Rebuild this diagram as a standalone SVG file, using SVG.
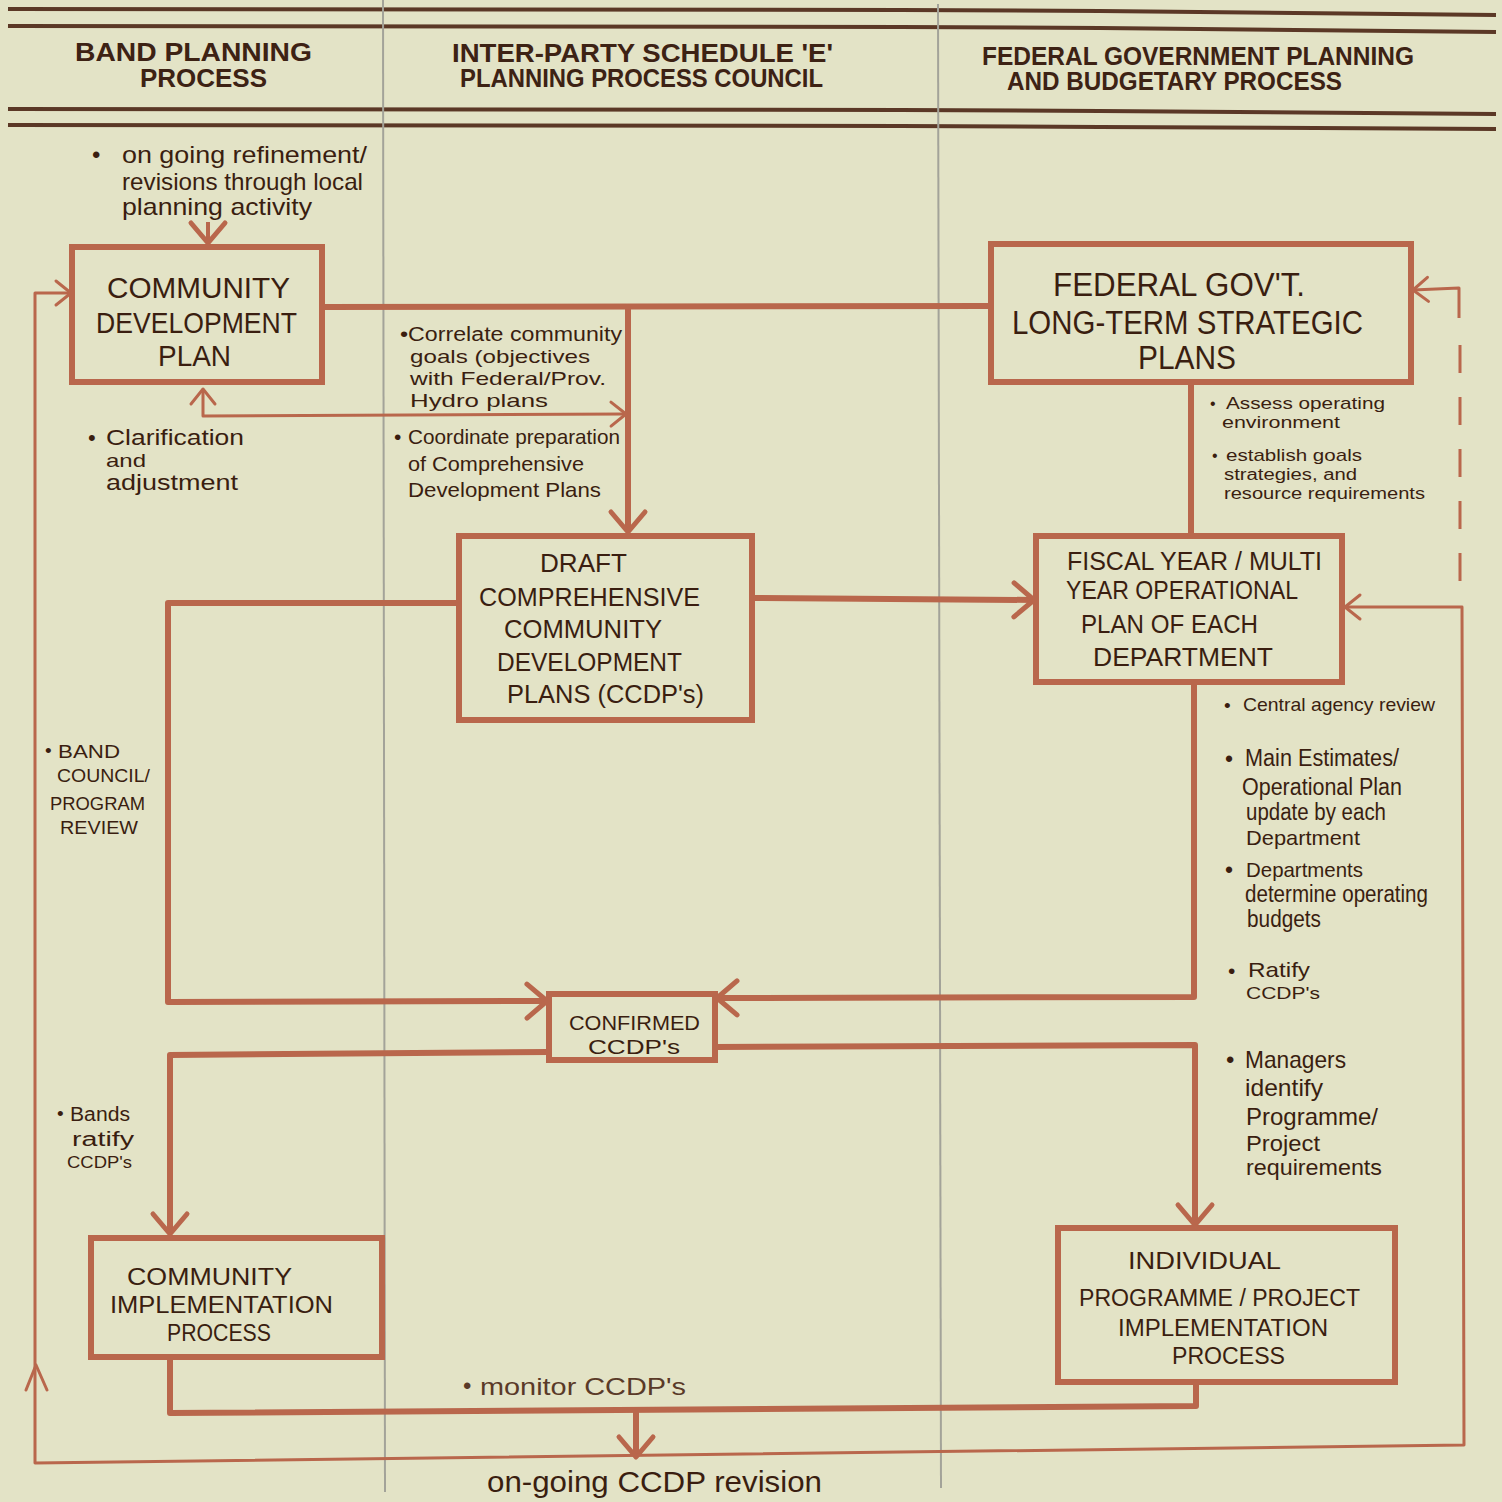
<svg xmlns="http://www.w3.org/2000/svg" width="1502" height="1502" viewBox="0 0 1502 1502">
<style>
.bg{fill:#e3e3c6}
.rule{stroke:#5b3826;stroke-width:4;fill:none}
.div{stroke:#a3a399;stroke-width:2;fill:none}
.box{fill:none;stroke:#b9674c;stroke-width:6}
.thick{fill:none;stroke:#b9674c;stroke-width:6;stroke-linejoin:round}
.thin{fill:none;stroke:#b9674c;stroke-width:3;stroke-linejoin:round}
.hdr{font-family:"Liberation Sans",Arial,sans-serif;font-weight:bold;font-size:25px;fill:#3d2214}
.lbl{font-family:"Liberation Sans",Arial,sans-serif;font-size:26px;fill:#3a1e10}
.ann{font-family:"Liberation Sans",Arial,sans-serif;font-size:23px;fill:#3a1e10}
.sm{font-family:"Liberation Sans",Arial,sans-serif;font-size:19px;fill:#3a1e10}
.xs{font-family:"Liberation Sans",Arial,sans-serif;font-size:16px;fill:#3a1e10}
.mon{font-family:"Liberation Sans",Arial,sans-serif;font-size:24px;fill:#5a3a28}
</style>
<defs>
<marker id="ah" viewBox="-24 -22 28 44" markerWidth="28" markerHeight="44" refX="0" refY="0" orient="auto-start-reverse" markerUnits="userSpaceOnUse">
<path d="M-20,-17 L0,0 L-20,17" fill="none" stroke="#b9674c" stroke-width="5" stroke-linecap="round" stroke-linejoin="round"/>
</marker>
<marker id="as" viewBox="-18 -16 22 32" markerWidth="22" markerHeight="32" refX="0" refY="0" orient="auto-start-reverse" markerUnits="userSpaceOnUse">
<path d="M-15,-12 L0,0 L-15,12" fill="none" stroke="#b9674c" stroke-width="3" stroke-linecap="round" stroke-linejoin="round"/>
</marker>
</defs>
<rect class="bg" x="0" y="0" width="1502" height="1502"/>

<g id="frame">
<path class="rule" d="M8,9 L900,10 L1100,11 L1496,15"/>
<path class="rule" d="M8,26 L900,27 L1100,28 L1496,32"/>
<path class="rule" d="M8,109 L900,110 L1100,111 L1496,114"/>
<path class="rule" d="M8,125 L900,126 L1100,127 L1496,129"/>
<path class="div" d="M383,0 L385,1492"/>
<path class="div" d="M938,4 L941,1488"/>
<text class="hdr" x="75" y="61" textLength="237" lengthAdjust="spacingAndGlyphs">BAND PLANNING</text>
<text class="hdr" x="140" y="87" textLength="127" lengthAdjust="spacingAndGlyphs">PROCESS</text>
<text class="hdr" x="452" y="62" textLength="381" lengthAdjust="spacingAndGlyphs">INTER-PARTY  SCHEDULE 'E'</text>
<text class="hdr" x="460" y="87" textLength="363" lengthAdjust="spacingAndGlyphs">PLANNING PROCESS COUNCIL</text>
<text class="hdr" x="982" y="65" textLength="432" lengthAdjust="spacingAndGlyphs">FEDERAL GOVERNMENT PLANNING</text>
<text class="hdr" x="1007" y="90" textLength="335" lengthAdjust="spacingAndGlyphs">AND  BUDGETARY PROCESS</text>
</g>

<g id="connectors">
<path class="thick" d="M208,222 L208,243" marker-end="url(#ah)" style="stroke-width:4"/>
<path class="thick" d="M322,307 L991,306"/>
<path class="thick" d="M628,307 L628,532" marker-end="url(#ah)"/>
<path class="thin" d="M203,389 L203,416 L626,414" marker-start="url(#as)" marker-end="url(#as)"/>
<path class="thick" d="M1191,382 L1191,535"/>
<path class="thick" d="M752,598 L1034,600" marker-end="url(#ah)"/>
<path class="thick" d="M459,603 L168,603 L168,1002 L547,1001" marker-end="url(#ah)"/>
<path class="thick" d="M1194,682 L1194,997 L717,998" marker-end="url(#ah)"/>
<path class="thick" d="M549,1052 L170,1055 L170,1234" marker-end="url(#ah)"/>
<path class="thick" d="M715,1047 L1195,1045 L1195,1225" marker-end="url(#ah)"/>
<path class="thick" d="M170,1357 L170,1413 L1196,1406 L1196,1382"/>
<path class="thick" d="M636,1412 L636,1457" marker-end="url(#ah)"/>
<path class="thin" d="M1345,607 L1462,607 L1464,1445 L35,1463 L35,293 L71,293" marker-start="url(#as)" marker-end="url(#as)"/>
<path class="thin" d="M26,1390 L36,1365 L47,1390" stroke-linecap="round"/>
<path class="thin" d="M1459,318 L1459,288 L1413,290" marker-end="url(#as)"/>
<path class="thin" d="M1460,345 L1460,598" stroke-dasharray="28 24"/>
</g>

<g id="node-cdp">
<rect class="box" x="72" y="247" width="250" height="135"/>
<text class="lbl" x="107" y="298" textLength="183" lengthAdjust="spacingAndGlyphs" style="font-size:29px">COMMUNITY</text>
<text class="lbl" x="96" y="333" textLength="201" lengthAdjust="spacingAndGlyphs" style="font-size:29px">DEVELOPMENT</text>
<text class="lbl" x="158" y="366" textLength="73" lengthAdjust="spacingAndGlyphs" style="font-size:29px">PLAN</text>
</g>

<g id="node-federal">
<rect class="box" x="991" y="244" width="420" height="138"/>
<text class="lbl" x="1053" y="296" textLength="252" lengthAdjust="spacingAndGlyphs" style="font-size:34px">FEDERAL GOV'T.</text>
<text class="lbl" x="1012" y="334" textLength="351" lengthAdjust="spacingAndGlyphs" style="font-size:34px">LONG-TERM STRATEGIC</text>
<text class="lbl" x="1138" y="369" textLength="98" lengthAdjust="spacingAndGlyphs" style="font-size:34px">PLANS</text>
</g>

<g id="node-draft">
<rect class="box" x="459" y="536" width="293" height="184"/>
<text class="lbl" x="540" y="572" textLength="87" lengthAdjust="spacingAndGlyphs">DRAFT</text>
<text class="lbl" x="479" y="606" textLength="221" lengthAdjust="spacingAndGlyphs">COMPREHENSIVE</text>
<text class="lbl" x="504" y="638" textLength="158" lengthAdjust="spacingAndGlyphs">COMMUNITY</text>
<text class="lbl" x="497" y="671" textLength="185" lengthAdjust="spacingAndGlyphs">DEVELOPMENT</text>
<text class="lbl" x="507" y="703" textLength="197" lengthAdjust="spacingAndGlyphs">PLANS (CCDP's)</text>
</g>

<g id="node-fiscal">
<rect class="box" x="1036" y="536" width="306" height="146"/>
<text class="lbl" x="1067" y="570" textLength="255" lengthAdjust="spacingAndGlyphs">FISCAL YEAR / MULTI</text>
<text class="lbl" x="1066" y="599" textLength="232" lengthAdjust="spacingAndGlyphs">YEAR OPERATIONAL</text>
<text class="lbl" x="1081" y="633" textLength="177" lengthAdjust="spacingAndGlyphs">PLAN  OF  EACH</text>
<text class="lbl" x="1093" y="666" textLength="180" lengthAdjust="spacingAndGlyphs">DEPARTMENT</text>
</g>

<g id="node-confirmed">
<rect class="box" x="549" y="994" width="166" height="66"/>
<text class="lbl" x="569" y="1030" textLength="131" lengthAdjust="spacingAndGlyphs" style="font-size:20px">CONFIRMED</text>
<text class="lbl" x="588" y="1054" textLength="92" lengthAdjust="spacingAndGlyphs" style="font-size:20px">CCDP's</text>
</g>

<g id="node-cip">
<rect class="box" x="91" y="1238" width="291" height="119"/>
<text class="lbl" x="127" y="1285" textLength="165" lengthAdjust="spacingAndGlyphs" style="font-size:23px">COMMUNITY</text>
<text class="lbl" x="110" y="1313" textLength="223" lengthAdjust="spacingAndGlyphs" style="font-size:23px">IMPLEMENTATION</text>
<text class="lbl" x="167" y="1341" textLength="104" lengthAdjust="spacingAndGlyphs" style="font-size:23px">PROCESS</text>
</g>

<g id="node-individual">
<rect class="box" x="1058" y="1228" width="337" height="154"/>
<text class="lbl" x="1128" y="1269" textLength="153" lengthAdjust="spacingAndGlyphs" style="font-size:23px">INDIVIDUAL</text>
<text class="lbl" x="1079" y="1306" textLength="281" lengthAdjust="spacingAndGlyphs" style="font-size:23px">PROGRAMME / PROJECT</text>
<text class="lbl" x="1118" y="1336" textLength="210" lengthAdjust="spacingAndGlyphs" style="font-size:23px">IMPLEMENTATION</text>
<text class="lbl" x="1172" y="1364" textLength="113" lengthAdjust="spacingAndGlyphs" style="font-size:23px">PROCESS</text>
</g>

<g id="annotations">
<text class="ann" x="92" y="163" style="font-size:24px">•</text>
<text class="ann" x="122" y="163" textLength="245" lengthAdjust="spacingAndGlyphs" style="font-size:24px">on going refinement/</text>
<text class="ann" x="122" y="190" textLength="241" lengthAdjust="spacingAndGlyphs" style="font-size:24px">revisions through local</text>
<text class="ann" x="122" y="215" textLength="190" lengthAdjust="spacingAndGlyphs" style="font-size:24px">planning activity</text>

<text class="ann" x="400" y="341" textLength="222" lengthAdjust="spacingAndGlyphs" style="font-size:20px">•Correlate community</text>
<text class="ann" x="410" y="363" textLength="180" lengthAdjust="spacingAndGlyphs" style="font-size:19px">goals (objectives</text>
<text class="ann" x="410" y="385" textLength="196" lengthAdjust="spacingAndGlyphs" style="font-size:19px">with Federal/Prov.</text>
<text class="ann" x="410" y="407" textLength="138" lengthAdjust="spacingAndGlyphs" style="font-size:19px">Hydro plans</text>

<text class="ann" x="88" y="445" style="font-size:22px">•</text>
<text class="ann" x="106" y="445" textLength="138" lengthAdjust="spacingAndGlyphs" style="font-size:22px">Clarification</text>
<text class="ann" x="106" y="467" textLength="40" lengthAdjust="spacingAndGlyphs" style="font-size:19px">and</text>
<text class="ann" x="106" y="490" textLength="132" lengthAdjust="spacingAndGlyphs" style="font-size:22px">adjustment</text>

<text class="ann" x="394" y="444" style="font-size:21px">•</text>
<text class="ann" x="408" y="444" textLength="212" lengthAdjust="spacingAndGlyphs" style="font-size:21px">Coordinate preparation</text>
<text class="ann" x="408" y="471" textLength="176" lengthAdjust="spacingAndGlyphs" style="font-size:21px">of Comprehensive</text>
<text class="ann" x="408" y="497" textLength="193" lengthAdjust="spacingAndGlyphs" style="font-size:21px">Development Plans</text>

<text class="xs" x="1210" y="409">•</text>
<text class="sm" x="1226" y="409" textLength="159" lengthAdjust="spacingAndGlyphs" style="font-size:17px">Assess operating</text>
<text class="xs" x="1222" y="428" textLength="118" lengthAdjust="spacingAndGlyphs">environment</text>
<text class="xs" x="1212" y="461">•</text>
<text class="sm" x="1226" y="461" textLength="136" lengthAdjust="spacingAndGlyphs" style="font-size:17px">establish goals</text>
<text class="xs" x="1224" y="480" textLength="133" lengthAdjust="spacingAndGlyphs">strategies, and</text>
<text class="xs" x="1224" y="499" textLength="201" lengthAdjust="spacingAndGlyphs">resource requirements</text>

<text class="sm" x="1224" y="712">•</text>
<text class="sm" x="1243" y="711" textLength="192" lengthAdjust="spacingAndGlyphs">Central agency review</text>

<text class="ann" x="1225" y="767">•</text>
<text class="ann" x="1245" y="766" textLength="154" lengthAdjust="spacingAndGlyphs">Main Estimates/</text>
<text class="ann" x="1242" y="795" textLength="160" lengthAdjust="spacingAndGlyphs">Operational Plan</text>
<text class="ann" x="1246" y="820" textLength="140" lengthAdjust="spacingAndGlyphs">update by each</text>
<text class="ann" x="1246" y="845" textLength="114" lengthAdjust="spacingAndGlyphs" style="font-size:21px">Department</text>

<text class="ann" x="1225" y="878">•</text>
<text class="ann" x="1246" y="877" textLength="117" lengthAdjust="spacingAndGlyphs" style="font-size:21px">Departments</text>
<text class="ann" x="1245" y="902" textLength="183" lengthAdjust="spacingAndGlyphs">determine operating</text>
<text class="ann" x="1247" y="927" textLength="74" lengthAdjust="spacingAndGlyphs">budgets</text>

<text class="ann" x="1228" y="978" style="font-size:21px">•</text>
<text class="ann" x="1248" y="977" textLength="62" lengthAdjust="spacingAndGlyphs" style="font-size:21px">Ratify</text>
<text class="xs" x="1246" y="999" textLength="74" lengthAdjust="spacingAndGlyphs" style="font-size:17px">CCDP's</text>

<text class="ann" x="1226" y="1068" style="font-size:24px">•</text>
<text class="ann" x="1245" y="1068" textLength="101" lengthAdjust="spacingAndGlyphs" style="font-size:24px">Managers</text>
<text class="ann" x="1245" y="1096" textLength="78" lengthAdjust="spacingAndGlyphs" style="font-size:24px">identify</text>
<text class="ann" x="1246" y="1125" textLength="132" lengthAdjust="spacingAndGlyphs" style="font-size:24px">Programme/</text>
<text class="ann" x="1246" y="1151" textLength="74" lengthAdjust="spacingAndGlyphs" style="font-size:22px">Project</text>
<text class="ann" x="1246" y="1175" textLength="136" lengthAdjust="spacingAndGlyphs" style="font-size:22px">requirements</text>

<text class="sm" x="45" y="757">•</text>
<text class="sm" x="58" y="758" textLength="62" lengthAdjust="spacingAndGlyphs">BAND</text>
<text class="sm" x="57" y="782" textLength="93" lengthAdjust="spacingAndGlyphs">COUNCIL/</text>
<text class="sm" x="50" y="810" textLength="95" lengthAdjust="spacingAndGlyphs">PROGRAM</text>
<text class="sm" x="60" y="834" textLength="78" lengthAdjust="spacingAndGlyphs">REVIEW</text>

<text class="sm" x="57" y="1120">•</text>
<text class="ann" x="70" y="1121" textLength="60" lengthAdjust="spacingAndGlyphs" style="font-size:20px">Bands</text>
<text class="ann" x="72" y="1146" textLength="62" lengthAdjust="spacingAndGlyphs" style="font-size:20px">ratify</text>
<text class="xs" x="67" y="1168" textLength="65" lengthAdjust="spacingAndGlyphs" style="font-size:17px">CCDP's</text>

<text class="mon" x="463" y="1394">•</text>
<text class="mon" x="480" y="1395" textLength="206" lengthAdjust="spacingAndGlyphs">monitor  CCDP's</text>

<text class="ann" x="487" y="1492" textLength="335" lengthAdjust="spacingAndGlyphs" style="font-size:29px">on-going  CCDP revision</text>
</g>
</svg>
